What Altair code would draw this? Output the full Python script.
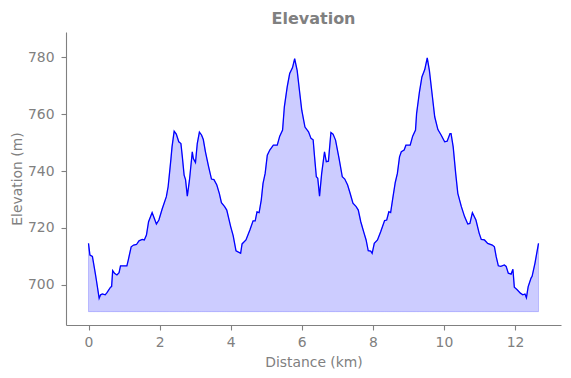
import altair as alt
import pandas as pd

distance_km = [
    0.00, 0.04, 0.11, 0.19, 0.22, 0.30, 0.34, 0.39, 0.47, 0.52,
    0.62, 0.65, 0.68, 0.73, 0.80, 0.86, 0.90, 0.99, 1.08, 1.12,
    1.20, 1.27, 1.35, 1.42, 1.51, 1.57, 1.63, 1.69, 1.79, 1.85,
    1.91, 1.98, 2.07, 2.19, 2.24, 2.28, 2.32, 2.35, 2.41, 2.47,
    2.54, 2.60, 2.64, 2.69, 2.73, 2.78, 2.84, 2.92, 2.95, 3.01,
    3.06, 3.12, 3.18, 3.23, 3.29, 3.38, 3.46, 3.53, 3.61, 3.68,
    3.74, 3.83, 3.89, 4.00, 4.07, 4.15, 4.22, 4.28, 4.32, 4.43,
    4.54, 4.63, 4.69, 4.74, 4.80, 4.86, 4.91, 4.97, 5.03, 5.10,
    5.20, 5.31, 5.38, 5.46, 5.51, 5.59, 5.66, 5.74, 5.80, 5.87,
    5.94, 6.00, 6.09, 6.19, 6.26, 6.32, 6.36, 6.41, 6.45, 6.50,
    6.56, 6.64, 6.69, 6.75, 6.82, 6.88, 6.95, 7.05, 7.14, 7.21,
    7.29, 7.36, 7.44, 7.53, 7.59, 7.66, 7.74, 7.81, 7.87, 7.94,
    7.98, 8.04, 8.13, 8.22, 8.33, 8.39, 8.45, 8.50, 8.56, 8.63,
    8.69, 8.75, 8.80, 8.88, 8.93, 9.05, 9.12, 9.20, 9.23, 9.31,
    9.38, 9.46, 9.53, 9.59, 9.66, 9.74, 9.83, 9.92, 10.02, 10.09,
    10.17, 10.20, 10.26, 10.33, 10.39, 10.49, 10.58, 10.67, 10.73, 10.80,
    10.90, 10.99, 11.05, 11.14, 11.23, 11.36, 11.42, 11.47, 11.53, 11.60,
    11.70, 11.75, 11.81, 11.89, 11.94, 11.98, 12.06, 12.15, 12.22, 12.28,
    12.32, 12.37, 12.45, 12.48, 12.56, 12.66,
]

elevation_m = [
    714.6, 710.5, 710.0, 704.1, 701.8, 695.3, 696.5, 696.8, 696.5, 697.3,
    699.2, 699.4, 705.0, 704.1, 703.5, 704.3, 706.7, 706.7, 706.7, 708.8,
    713.4, 714.0, 714.2, 715.5, 716.0, 715.8, 717.5, 722.2, 725.4, 723.4,
    721.4, 722.8, 726.6, 731.0, 734.5, 739.4, 744.4, 748.5, 754.0, 753.0,
    750.3, 749.7, 745.0, 738.6, 737.0, 731.2, 736.8, 746.8, 744.4, 743.0,
    749.7, 753.7, 752.7, 751.1, 746.8, 741.5, 737.2, 737.0, 735.1, 732.2,
    728.9, 727.5, 726.3, 720.5, 717.3, 712.0, 711.5, 711.1, 714.4, 715.8,
    719.3, 722.5, 722.5, 725.7, 725.4, 729.8, 735.7, 739.2, 745.6, 747.4,
    749.1, 749.1, 752.3, 754.4, 762.6, 769.6, 774.3, 776.4, 779.5, 775.4,
    767.8, 761.4, 755.5, 753.8, 751.5, 751.0, 745.0, 738.0, 737.5, 731.2,
    739.2, 746.8, 743.3, 743.5, 753.6, 753.0, 750.9, 744.4, 738.0, 737.2,
    735.1, 732.2, 728.7, 727.5, 726.3, 722.2, 718.7, 715.8, 712.0, 711.9,
    711.1, 714.6, 715.8, 718.7, 722.6, 722.8, 725.7, 725.4, 730.4, 736.0,
    739.2, 745.0, 746.8, 747.4, 749.1, 749.1, 752.3, 754.4, 760.2, 767.8,
    773.1, 775.7, 779.8, 775.4, 767.8, 759.1, 754.6, 752.7, 750.3, 750.5,
    753.2, 753.2, 748.5, 739.2, 732.2, 727.5, 724.0, 721.4, 721.6, 725.4,
    722.8, 718.2, 716.0, 715.8, 714.6, 714.0, 713.4, 709.9, 706.7, 706.5,
    707.0, 706.5, 704.1, 703.8, 705.5, 699.2, 698.3, 697.1, 696.5, 696.8,
    695.5, 699.4, 702.4, 703.0, 707.6, 714.6,
]

baseline_m = 690.6

x_ticks = [0, 2, 4, 6, 8, 10, 12]
y_ticks = [700, 720, 740, 760, 780]

df = pd.DataFrame({"distance": distance_km, "elevation": elevation_m})
df["base"] = baseline_m

GRAY = "#808080"
FONT = "DejaVu Sans"

x_enc = alt.X(
    "distance:Q",
    scale=alt.Scale(domain=[-0.633, 13.293], nice=False, zero=False),
    axis=alt.Axis(title="Distance (km)", values=x_ticks, format="d",
                  labelPadding=5, titlePadding=7),
)
y_enc = alt.Y(
    "elevation:Q",
    scale=alt.Scale(domain=[685.9, 788.9], nice=False, zero=False),
    axis=alt.Axis(title="Elevation (m)", values=y_ticks, format="d",
                  labelPadding=7, titlePadding=3),
)

area = alt.Chart(df).mark_area(
    fill="blue", fillOpacity=0.2, stroke="blue", strokeOpacity=0.2, strokeWidth=1
).encode(x=x_enc, y=y_enc, y2="base:Q")

line = alt.Chart(df).mark_line(color="blue", strokeWidth=1.3).encode(x=x_enc, y=y_enc)

chart = (
    (area + line)
    .properties(
        width=495,
        height=293,
        title=alt.Title("Elevation", fontSize=16, fontWeight="bold", color=GRAY,
                        font=FONT, anchor="middle", offset=5),
        padding={"left": 66, "top": 32, "right": 10, "bottom": 53},
        autosize=alt.AutoSizeParams(type="none"),
    )
    .configure_view(stroke=None)
    .configure_axis(
        grid=False,
        labelColor=GRAY,
        titleColor=GRAY,
        domainColor=GRAY,
        tickColor=GRAY,
        labelFont=FONT,
        titleFont=FONT,
        labelFontSize=13.9,
        titleFontSize=13.9,
        titleFontWeight="normal",
        tickSize=5,
        domainWidth=1.1,
        tickWidth=1.1,
    )
)

chart.save("out.html", embed_options={"renderer": "svg", "actions": False})
